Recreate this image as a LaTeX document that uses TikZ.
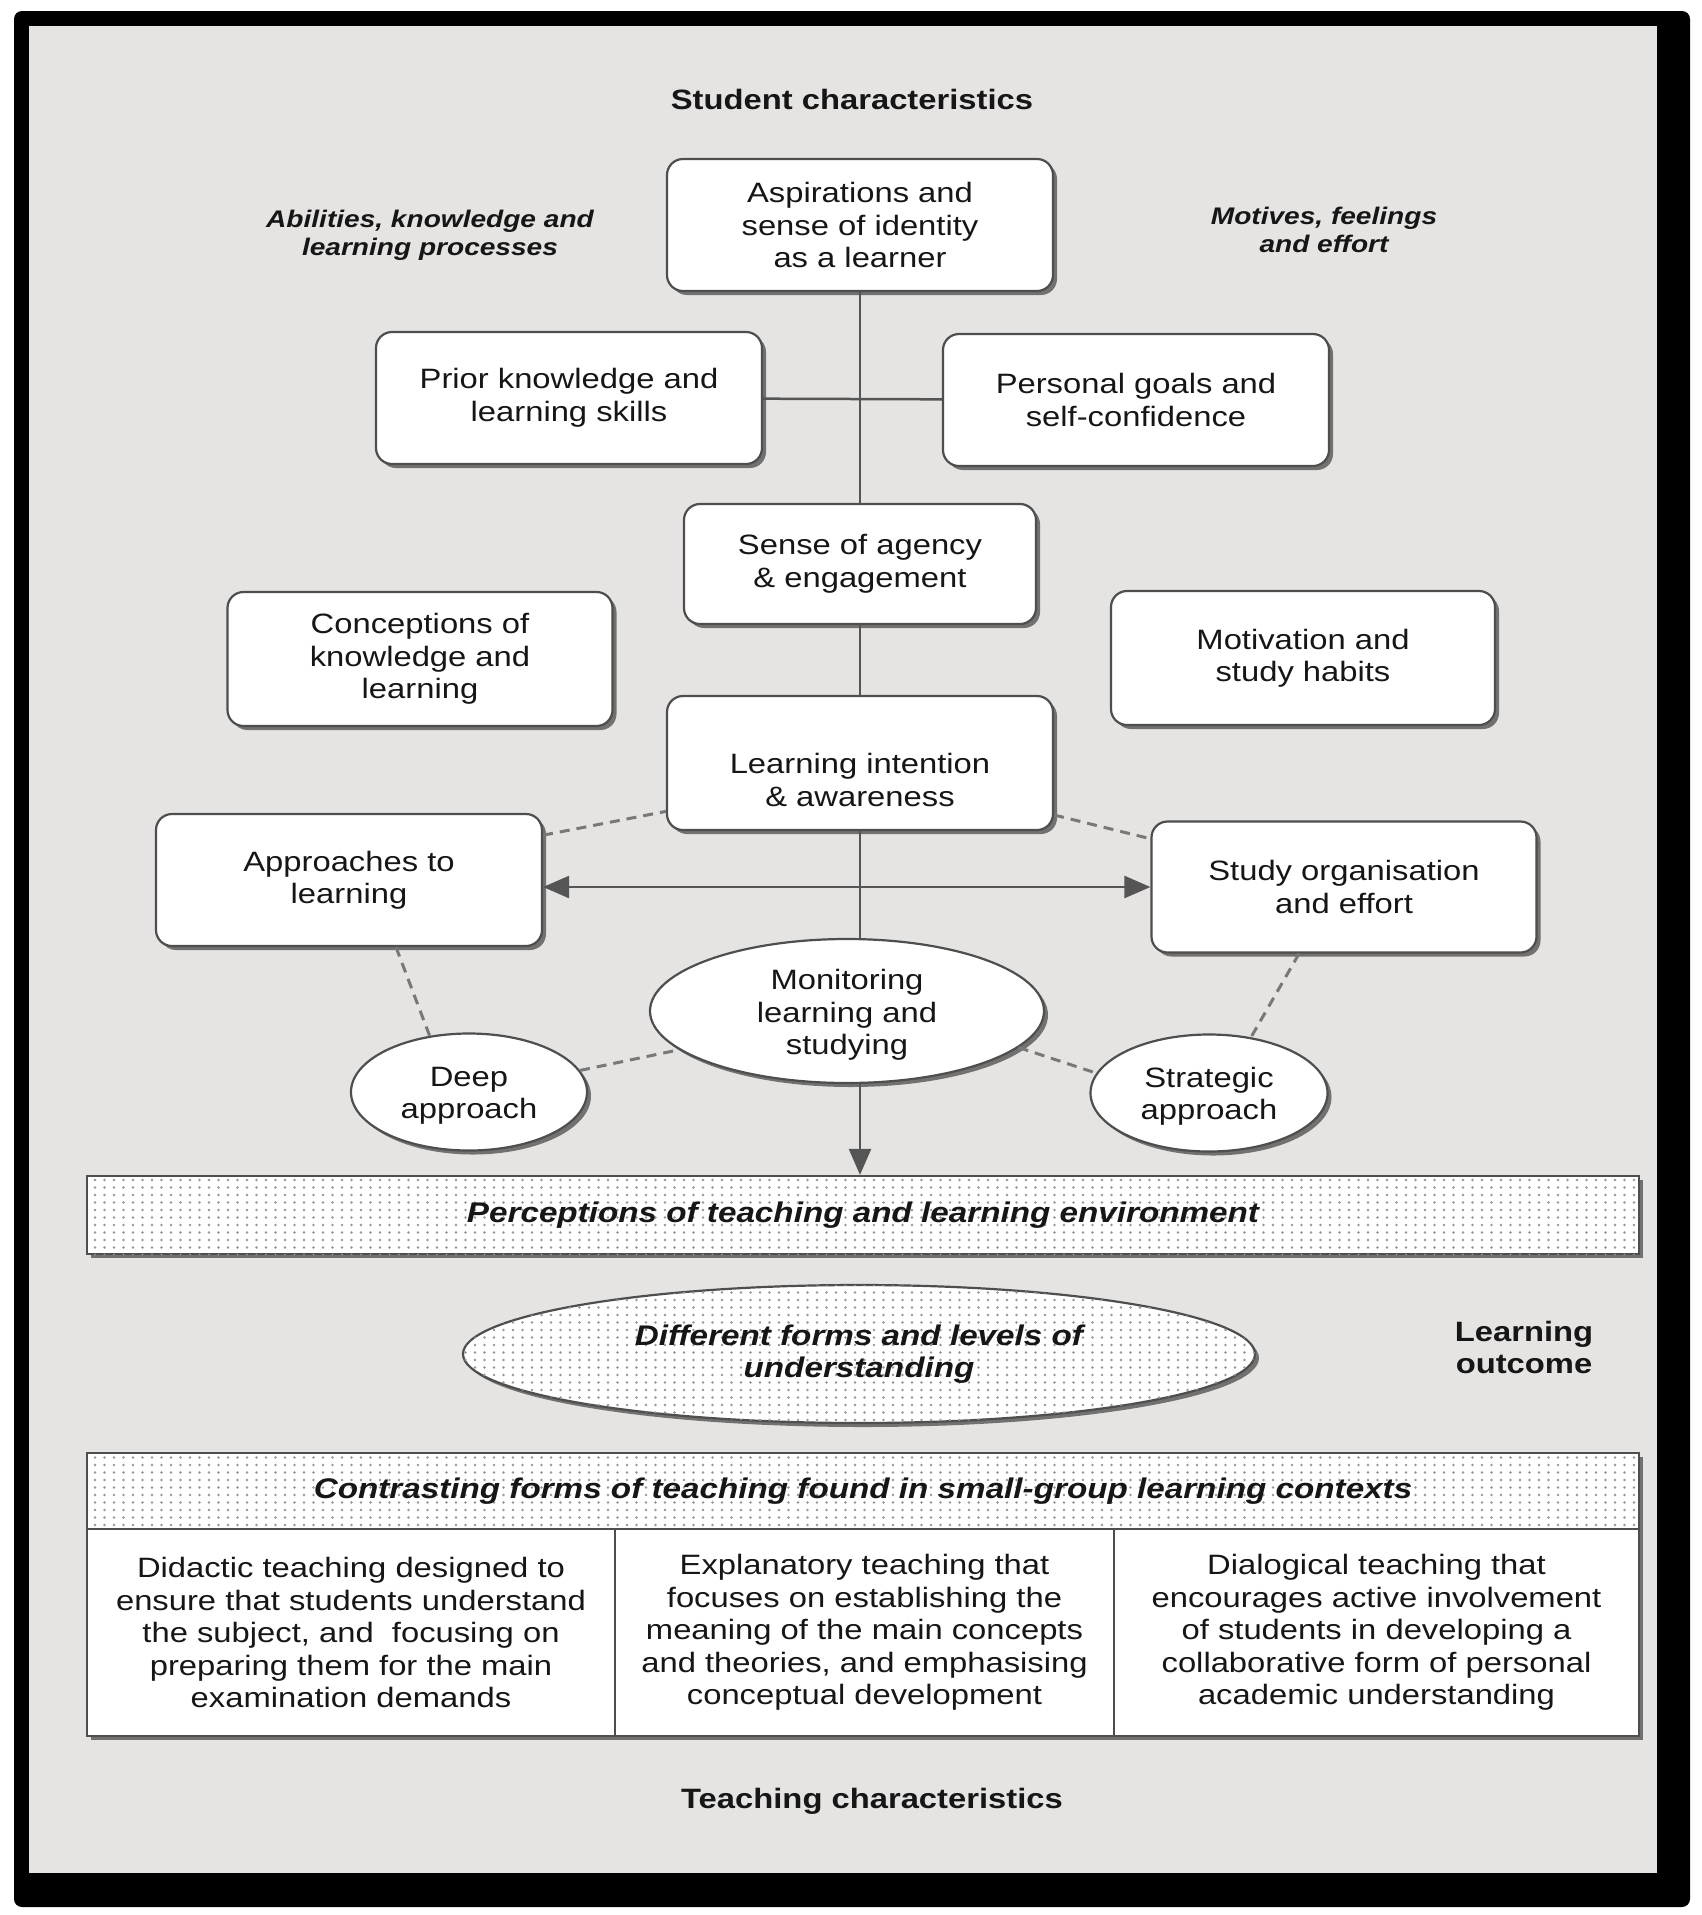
\documentclass[tikz,border=0pt]{standalone}
\usepackage{fontspec}
\setmainfont{Liberation Sans}[FakeStretch=1.17]
\usetikzlibrary{arrows.meta,shadows,shapes.geometric,patterns.meta,calc}
\definecolor{bg}{RGB}{230,228,226}
\definecolor{edgec}{RGB}{78,78,78}
\definecolor{connc}{RGB}{85,85,85}
\definecolor{dashc}{RGB}{120,120,120}
\definecolor{ink}{RGB}{22,22,22}
\definecolor{dotc}{RGB}{150,150,150}
\newcommand\bodyf{\fontsize{28}{32.5}\selectfont}
\newcommand\bandf{\fontsize{28.4}{32.5}\selectfont\bfseries\itshape}
\newcommand\sidef{\fontsize{24}{28}\selectfont\bfseries\itshape}
\newcommand\headf{\fontsize{28}{32}\selectfont\bfseries}
\tikzdeclarepattern{
  name=bigdots,
  type=uncolored,
  bounding box={(-4.75pt,-3.75pt) and (4.75pt,3.75pt)},
  tile size={(9.5pt,7.5pt)},
  code={\fill (0pt,0pt) circle (1.3pt);}
}
\tikzset{
  shad/.style={drop shadow={shadow xshift=4pt,shadow yshift=-4pt,opacity=0.5,fill=black}},
  box/.style={draw=edgec, line width=2.2pt, fill=white, rounded corners=16pt, align=center,
    font=\bodyf, text=ink, inner sep=0pt, minimum width=386pt, minimum height=132pt, shad},
  oval/.style={ellipse, draw=edgec, line width=2.2pt, fill=white, align=center,
    font=\bodyf, text=ink, inner sep=0pt, shad},
  dotfill/.style={fill=white, postaction={pattern=bigdots, pattern color=dotc}},
  band/.style={draw=edgec, line width=2.2pt, dotfill, inner sep=0pt, minimum width=1552pt,
    font=\bandf, text=ink, shad},
  tbox/.style={draw=edgec, line width=2.2pt, fill=white, inner sep=0pt, minimum height=207pt,
    align=center, font=\bodyf, text=ink, shad},
  conn/.style={draw=connc, line width=2.5pt},
  dline/.style={draw=dashc, line width=3pt, dash pattern=on 10pt off 7pt},
  tip/.style={-{Triangle[length=26pt,width=22pt]}},
  label/.style={align=center, text=ink, inner sep=0pt}
}
\begin{document}
\begin{tikzpicture}[x=1pt,y=-1pt]
\useasboundingbox (0,0) rectangle (1701,1915);
\fill[white] (0,0) rectangle (1701,1915);
\fill[black, rounded corners=8pt] (14,11) rectangle (1690,1907);
\fill[bg] (29,26) rectangle (1657,1873);

% labels
\node[label, font=\headf] (sc) at (852,99) {Student characteristics};
\node[label, font=\sidef] (akl) at (430,235) {Abilities, knowledge and\\learning processes};
\node[label, font=\sidef] (mfe) at (1324,230) {Motives, feelings\\and effort};
\node[label, font=\headf] (lo) at (1524,1347) {Learning\\outcome};
\node[label, font=\headf] (tc) at (872,1801) {Teaching characteristics};

% nodes
\node[box] (asp) at (860,225) {Aspirations and\\sense of identity\\as a learner};
\node[box] (prior) at (569,398) {Prior knowledge and\\learning skills};
\node[box] (goals) at (1136,400) {Personal goals and\\self-confidence};
\node[box, minimum width=352pt, minimum height=120pt] (agency) at (860,564) {Sense of agency\\\& engagement};
\node[box, minimum width=385pt, minimum height=134pt] (concep) at (420,659) {Conceptions of\\knowledge and\\learning};
\node[box, minimum width=384pt, minimum height=134pt] (motiv) at (1303,658) {Motivation and\\study habits};
\node[box, minimum height=134pt] (intent) at (860,763) {};
\node[label, font=\bodyf] (intenttxt) at (860,780) {Learning intention\\\& awareness};
\node[box] (appr) at (349,880) {Approaches to\\learning};
\node[box, minimum width=385pt, minimum height=131pt] (study) at (1344,887) {Study organisation\\and effort};
\node[oval, minimum width=394pt, minimum height=144pt] (monit) at (847,1011) {};
\node[label, font=\bodyf] (monittxt) at (847,1015) {Monitoring\\learning and\\studying};
\node[oval, minimum width=236pt, minimum height=117pt] (deep) at (469,1092) {};
\node[label, font=\bodyf] (deeptxt) at (469,1096) {Deep\\approach};
\node[oval, minimum width=237pt, minimum height=117pt] (strat) at (1209,1093) {};
\node[label, font=\bodyf] (strattxt) at (1209,1096) {Strategic\\approach};

\node[band, minimum height=78pt] (perc) at (863,1215) {Perceptions of teaching and learning environment};
\node[oval, dotfill, minimum width=792pt, minimum height=138pt, font=\bandf] (under) at (859,1354) {Different forms and levels of\\understanding};
\node[band, minimum height=76pt] (contr) at (863,1491) {Contrasting forms of teaching found in small-group learning contexts};
\node[tbox, minimum width=528pt] (did) at (351,1632.5) {Didactic teaching designed to\\ensure that students understand\\the subject, and\ \ focusing on\\preparing them for the main\\examination demands};
\node[tbox, minimum width=499pt] (expl) at (864.5,1632.5) {Explanatory teaching that\\focuses on establishing the\\meaning of the main concepts\\and theories, and emphasising\\conceptual development};
\node[tbox, minimum width=525pt] (dial) at (1376.5,1632.5) {Dialogical teaching that\\encourages active involvement\\of students in developing a\\collaborative form of personal\\academic understanding};

% connectors
\draw[conn] (asp) -- (agency);
\draw[conn] (prior) -- (goals);
\draw[conn] (agency) -- (intent);
\draw[conn] (intent.south) -- (intent.south |- monit.north);
\draw[conn, tip] (intent.south |- monit.south) -- (intent.south |- perc.north);
\draw[conn, {Triangle[length=26pt,width=22pt]}-{Triangle[length=26pt,width=22pt]}] (appr.east |- study.west) -- (study.west);

\draw[dline] (appr.13) -- (intent.194);
\draw[dline] (intent.-15) -- (study.166);
\draw[dline] (appr.-55) -- (deep.125);
\draw[dline] (deep.11) -- (monit.193);
\draw[dline] (monit.-12) -- (strat.170);
\draw[dline] (study.236) -- (strat.53);
\end{tikzpicture}
\end{document}
